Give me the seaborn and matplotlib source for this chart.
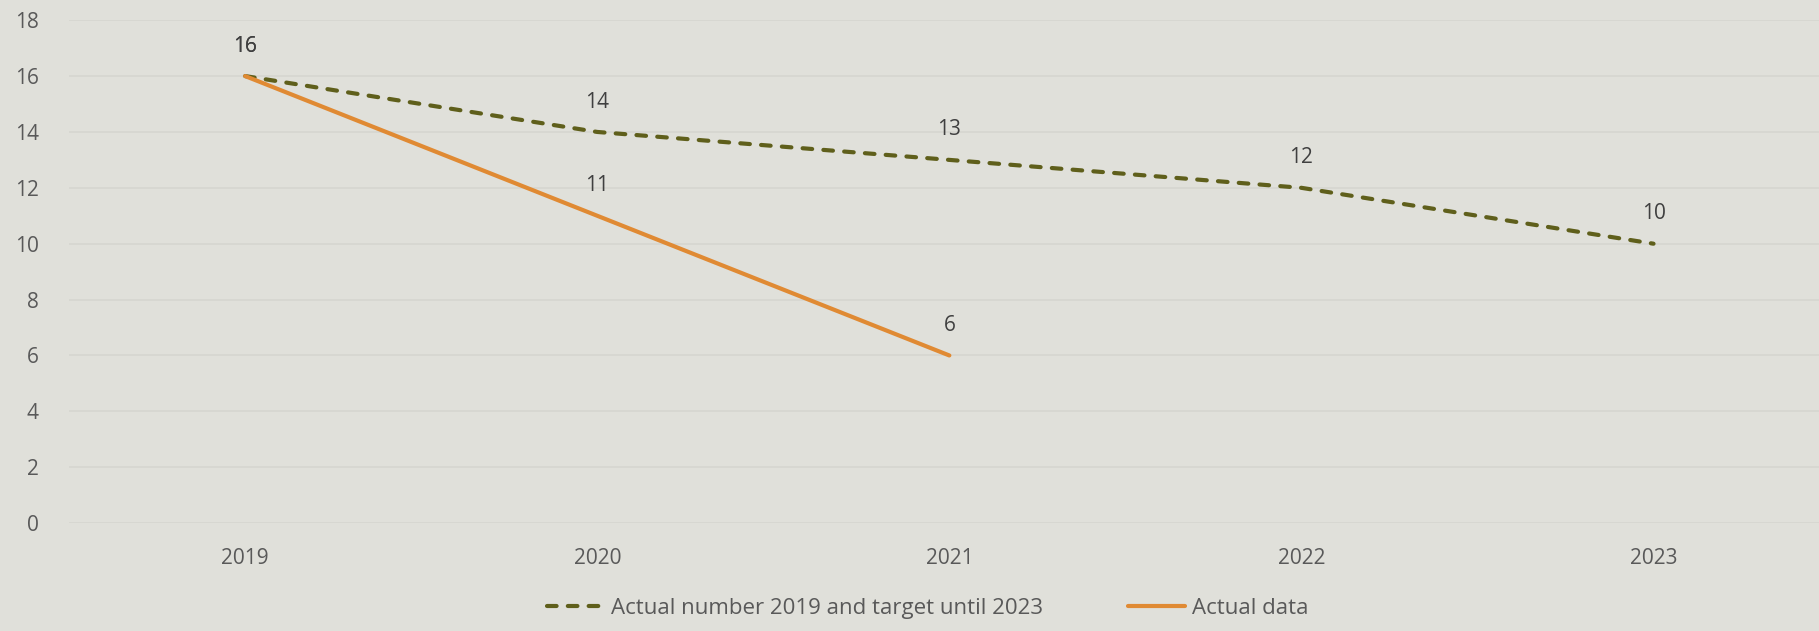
import pandas as pd
import matplotlib.pyplot as plt
import seaborn as sns

# Veriler
years = ['2019', '2020', '2021', '2022', '2023']
target_values = [16, 14, 13, 12, 10]
actual_years = ['2019', '2020', '2021']
actual_values = [16, 11, 6]

target_label = 'Actual number 2019 and target until 2023'
actual_label = 'Actual data'

bg = '#e0e0da'
olive = '#5f5f1b'
orange = '#e08a33'
text_col = '#595959'

sns.set_theme(style='white')
plt.rcParams['font.family'] = ['Open Sans', 'DejaVu Sans']

df_target = pd.DataFrame({'year': years, 'value': target_values})
df_actual = pd.DataFrame({'year': actual_years, 'value': actual_values})

fig = plt.figure(figsize=(18.19, 6.31), dpi=100, facecolor=bg)
ax = fig.add_axes([0.038, 0.171, 0.962, 0.797])
ax.set_facecolor(bg)

sns.lineplot(x='year', y='value', data=df_target, ax=ax, color=olive, linewidth=3,
             label=target_label, sort=False)
ax.lines[-1].set_dashes([2.3, 2.7])
ax.lines[-1].set_dash_capstyle('round')
sns.lineplot(x='year', y='value', data=df_actual, ax=ax, color=orange, linewidth=3,
             label=actual_label, sort=False)
ax.lines[-1].set_solid_capstyle('round')

# Veri etiketleri (2019 etiketi iki seride de var, üst üste biner)
for i, v in enumerate(target_values):
    ax.annotate(str(v), (i, v), xytext=(0, 14), textcoords='offset points',
                ha='center', va='bottom', fontsize=15, color='#404040')
for i, v in enumerate(actual_values):
    ax.annotate(str(v), (i, v), xytext=(0, 14), textcoords='offset points',
                ha='center', va='bottom', fontsize=15, color='#404040')

ax.set_ylim(0, 18)
ax.set_yticks(range(0, 19, 2))
ax.set_xlim(-0.5, 4.47)
ax.set_xlabel('')
ax.set_ylabel('')
ax.grid(axis='y', color='#d6d6d0', linewidth=1.2)
ax.set_axisbelow(True)
for s in ax.spines.values():
    s.set_visible(False)
ax.tick_params(axis='both', length=0, labelsize=15, labelcolor=text_col)
ax.tick_params(axis='x', pad=18)
ax.tick_params(axis='y', pad=22)

h, l = ax.get_legend_handles_labels()
ax.get_legend().remove()
leg = fig.legend(h, l, loc='lower center', bbox_to_anchor=(0.51, -0.012), ncol=2,
                 frameon=False, fontsize=16, handlelength=2.6, columnspacing=3.8,
                 handletextpad=0.3)
for t in leg.get_texts():
    t.set_color(text_col)

fig.savefig('out.png', dpi=100, facecolor=bg)
